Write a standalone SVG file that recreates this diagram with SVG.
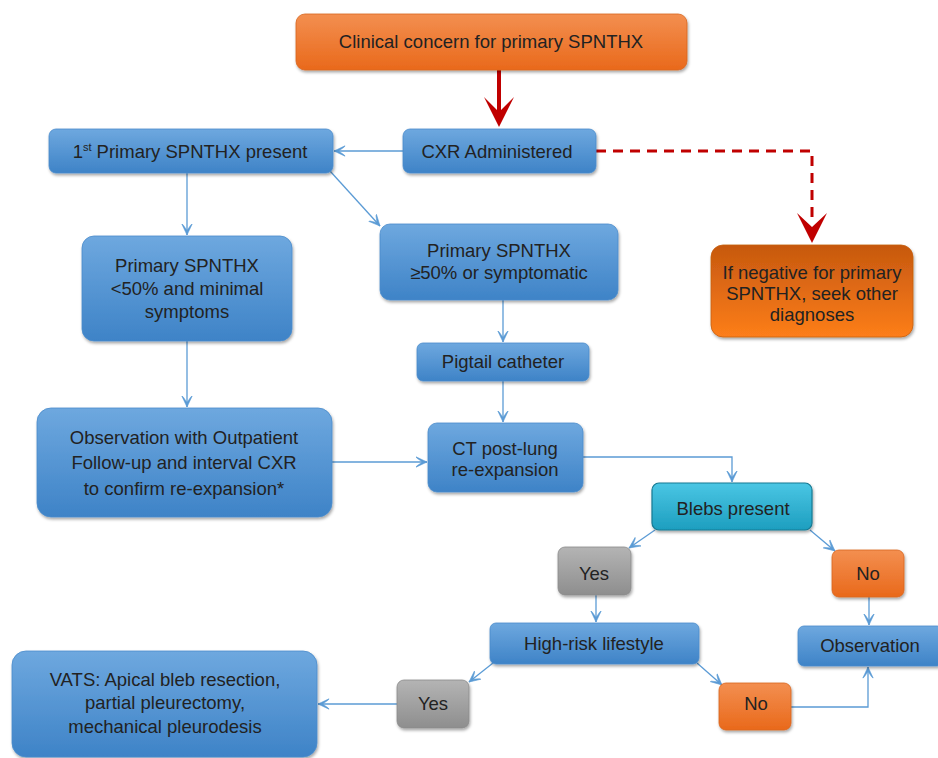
<svg xmlns="http://www.w3.org/2000/svg" width="938" height="758" viewBox="0 0 938 758">
<defs>
<linearGradient id="gBlue" x1="0" y1="0" x2="0" y2="1"><stop offset="0" stop-color="#6ea8df"/><stop offset="1" stop-color="#3e83c7"/></linearGradient>
<linearGradient id="gOrange" x1="0" y1="0" x2="0" y2="1"><stop offset="0" stop-color="#f38f50"/><stop offset="1" stop-color="#e9691b"/></linearGradient>
<linearGradient id="gOrangeR" x1="0" y1="0" x2="0" y2="1"><stop offset="0" stop-color="#c6580f"/><stop offset="1" stop-color="#fd7e1a"/></linearGradient>
<linearGradient id="gTeal" x1="0" y1="0" x2="0" y2="1"><stop offset="0" stop-color="#4ac6e4"/><stop offset="1" stop-color="#1d9ebf"/></linearGradient>
<linearGradient id="gGray" x1="0" y1="0" x2="0" y2="1"><stop offset="0" stop-color="#b4b4b4"/><stop offset="1" stop-color="#8e8e8e"/></linearGradient>
<filter id="sh" x="-10%" y="-10%" width="120%" height="130%"><feDropShadow dx="1" dy="2" stdDeviation="1.5" flood-color="#000" flood-opacity="0.35"/></filter>
<marker id="arr" viewBox="0 0 12 12" refX="11.5" refY="6" markerWidth="12" markerHeight="12" markerUnits="userSpaceOnUse" orient="auto"><path d="M0.5,0.8 L11.5,6 L0.5,11.2 L1.2,10 L7,6 L1.2,2 z" fill="#5b9bd5" stroke="#5b9bd5" stroke-width="0.6" stroke-linejoin="round"/></marker>
</defs>
<style>
.box{filter:url(#sh)}
.blue{fill:url(#gBlue);stroke:#4a8bcb;stroke-width:0.8}
.orange{fill:url(#gOrange);stroke:#d8661e;stroke-width:0.8}
.orangeR{fill:url(#gOrangeR);stroke:#c5600f;stroke-width:0.8}
.teal{fill:url(#gTeal);stroke:#177a93;stroke-width:1.2}
.gray{fill:url(#gGray);stroke:#8a8a8a;stroke-width:0.8}
text{font-family:"Liberation Sans",Arial,sans-serif;font-size:18.5px;fill:#222;text-anchor:middle}
.c{fill:none;stroke:#5b9bd5;stroke-width:1.3;marker-end:url(#arr)}
</style>
<rect width="938" height="758" fill="#fff"/>
<g id="connectors">
<line class="c" x1="403" y1="151" x2="334" y2="151"/>
<line class="c" x1="187" y1="173" x2="187" y2="235"/>
<line class="c" x1="330" y1="171" x2="380" y2="226"/>
<line class="c" x1="187" y1="341" x2="187" y2="407"/>
<line class="c" x1="503" y1="300" x2="503" y2="342"/>
<line class="c" x1="503" y1="381" x2="503" y2="422"/>
<line class="c" x1="332" y1="462" x2="427" y2="462"/>
<polyline class="c" points="583,457 732,457 732,482"/>
<line class="c" x1="655" y1="530" x2="629" y2="548"/>
<line class="c" x1="810" y1="530" x2="835" y2="551"/>
<line class="c" x1="596" y1="595" x2="596" y2="622"/>
<line class="c" x1="869" y1="597" x2="869" y2="625"/>
<line class="c" x1="493" y1="663" x2="469" y2="682"/>
<line class="c" x1="697" y1="663" x2="722" y2="685"/>
<line class="c" x1="397" y1="704" x2="318" y2="704"/>
<polyline class="c" points="791,707 868,707 868,667"/>
<line x1="499" y1="70" x2="499" y2="113" stroke="#c00000" stroke-width="4"/>
<polygon points="484,97 499,127 514,97 499,112" fill="#c00000"/>
<polyline points="596,151 812,151 812,224" fill="none" stroke="#c00000" stroke-width="3" stroke-dasharray="10 7"/>
<polygon points="797,213 812,243 827,213 812,227" fill="#c00000"/>
</g>
<g id="n-clinical"><rect class="box orange" x="296" y="14" width="391" height="56" rx="9"/><text x="491" y="48">Clinical concern for primary SPNTHX</text></g>
<g id="n-cxr"><rect class="box blue" x="403" y="129" width="193" height="44" rx="7"/><text x="497" y="158">CXR Administered</text></g>
<g id="n-first"><rect class="box blue" x="49" y="129" width="284" height="44" rx="7"/><text x="190" y="158">1<tspan font-size="11" dy="-7">st</tspan><tspan dy="7"> Primary SPNTHX present</tspan></text></g>
<g id="n-lt50"><rect class="box blue" x="82" y="236" width="210" height="105" rx="12"/><text x="187" y="272">Primary SPNTHX</text><text x="187" y="295">&lt;50% and minimal</text><text x="187" y="318">symptoms</text></g>
<g id="n-ge50"><rect class="box blue" x="380" y="224" width="238" height="76" rx="10"/><text x="499" y="257">Primary SPNTHX</text><text x="499" y="279">≥50% or symptomatic</text></g>
<g id="n-negative"><rect class="box orangeR" x="711" y="245" width="202" height="92" rx="12"/><text x="812" y="279">If negative for primary</text><text x="812" y="300">SPNTHX, seek other</text><text x="812" y="321">diagnoses</text></g>
<g id="n-pigtail"><rect class="box blue" x="417" y="343" width="172" height="38" rx="6"/><text x="503" y="368">Pigtail catheter</text></g>
<g id="n-observation-out"><rect class="box blue" x="37" y="408" width="295" height="109" rx="14"/><text x="184" y="444">Observation with Outpatient</text><text x="184" y="469">Follow-up and interval CXR</text><text x="184" y="495">to confirm re-expansion*</text></g>
<g id="n-ct"><rect class="box blue" x="428" y="423" width="155" height="69" rx="9"/><text x="505" y="455">CT post-lung</text><text x="505" y="476">re-expansion</text></g>
<g id="n-blebs"><rect class="box teal" x="652" y="483" width="160" height="47" rx="7"/><text x="733" y="515">Blebs present</text></g>
<g id="n-yes1"><rect class="box gray" x="558" y="547" width="73" height="48" rx="7"/><text x="594" y="580">Yes</text></g>
<g id="n-no1"><rect class="box orange" x="832" y="550" width="72" height="47" rx="7"/><text x="868" y="580">No</text></g>
<g id="n-highrisk"><rect class="box blue" x="490" y="623" width="209" height="41" rx="6"/><text x="594" y="650">High-risk lifestyle</text></g>
<g id="n-observation"><rect class="box blue" x="798" y="626" width="145" height="40" rx="6"/><text x="870" y="652">Observation</text></g>
<g id="n-yes2"><rect class="box gray" x="397" y="680" width="72" height="48" rx="7"/><text x="433" y="710">Yes</text></g>
<g id="n-no2"><rect class="box orange" x="719" y="683" width="72" height="47" rx="7"/><text x="756" y="710">No</text></g>
<g id="n-vats"><rect class="box blue" x="12" y="651" width="305" height="106" rx="14"/><text x="165" y="686">VATS: Apical bleb resection,</text><text x="165" y="709">partial pleurectomy,</text><text x="165" y="733">mechanical pleurodesis</text></g>
</svg>
